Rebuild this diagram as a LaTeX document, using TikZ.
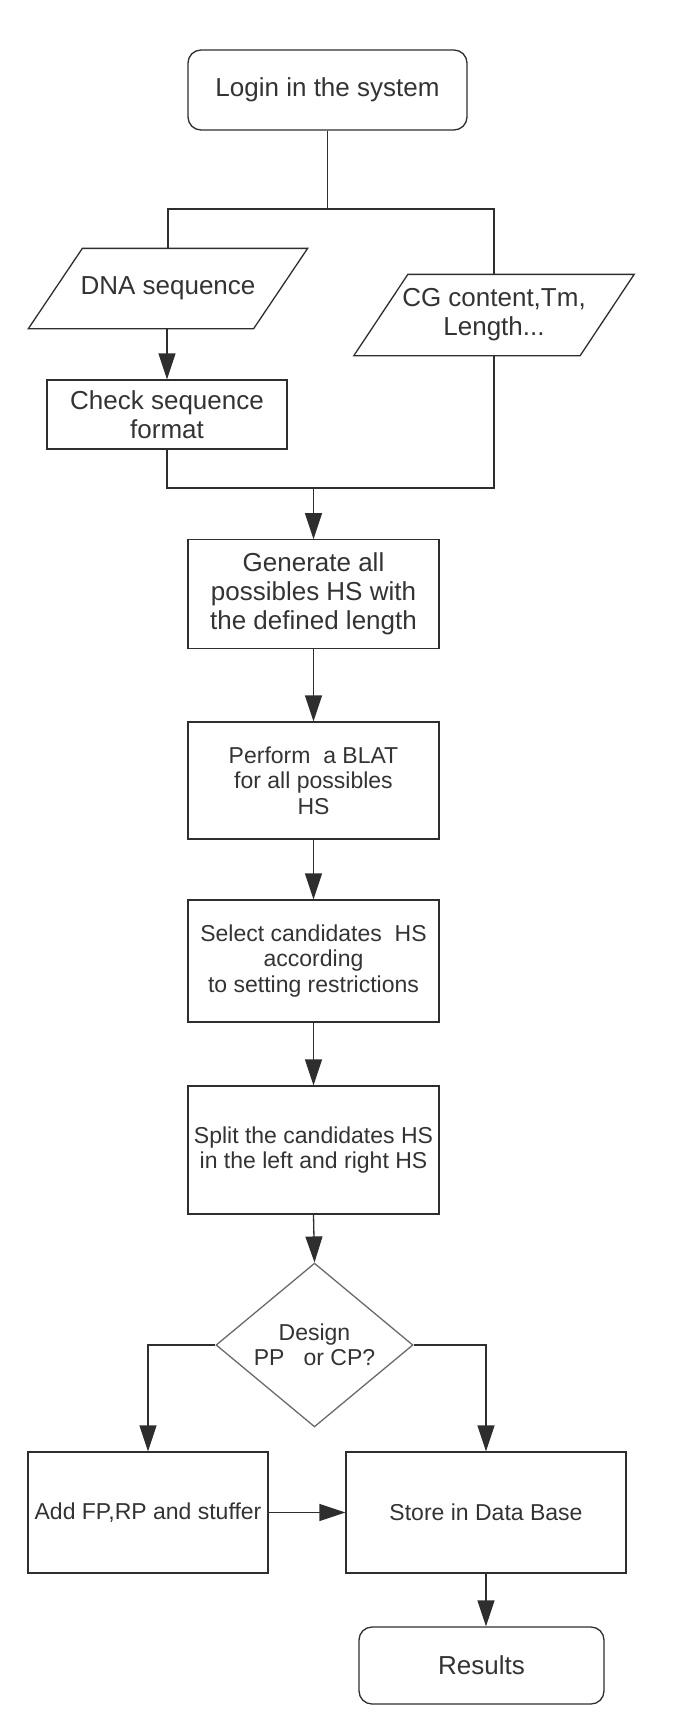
\documentclass[tikz,border=0pt]{standalone}
\usepackage{fontspec}
\setmainfont{Liberation Sans}
\usepackage{tikz}
\usetikzlibrary{arrows.meta,calc,shapes.geometric}

\definecolor{linegray}{HTML}{2E2E2E}
\definecolor{diamondgray}{HTML}{6A6A6A}
\definecolor{textgray}{HTML}{333333}

\begin{document}
\begin{tikzpicture}[x=1pt, y=-1pt, >={Triangle[length=26pt,width=17pt]}, line width=1.3pt, draw=linegray,
		big/.style={font=\fontsize{26}{29}\selectfont},
		small/.style={font=\fontsize{23}{25.5}\selectfont},
		terminal/.style={draw, rectangle, rounded corners=13pt, inner sep=0pt, align=center, text=textgray, big},
		io/.style={rectangle, inner sep=0pt, align=center, text=textgray, big},
		process/.style={draw, rectangle, inner sep=0pt, align=center, text=textgray},
		decision/.style={draw=diamondgray, diamond, inner sep=0pt, minimum width=197pt, minimum height=158pt, align=center, text=textgray, small}]
			\newcommand{\DrawIO}[2][54]{
				\draw (#2.south west) -- ($(#2.north west)+(#1,0)$) -- (#2.north east) -- ($(#2.south east)+(-#1,0)$) -- cycle;
			}
			\useasboundingbox (0,0) rectangle (685,1735);

			\node (login) [terminal, minimum width=279pt, minimum height=80pt] at (327.5,90) {Login in the system};

			\node (dna) [io, minimum width=278pt, minimum height=79pt] at (168,288.5) {DNA sequence};
			\node (cg) [io, minimum width=279pt, minimum height=80pt] at (494,315) {CG content,Tm,\\Length...};
			\DrawIO{dna}
			\DrawIO[54]{cg}

			\node (check) [process, big, minimum width=240pt, minimum height=69pt] at (167,414.5) {Check sequence\\format};

			\node (generate) [process, big, minimum width=251pt, minimum height=108.5pt] at (313.5,594) {Generate all\\possibles HS with\\the defined length};
			\node (perform) [process, small, minimum width=251pt, minimum height=117pt] at (313.5,780.5) {Perform\ \ a BLAT\\for all possibles\\HS};
			\node (select) [process, small, minimum width=251pt, minimum height=122pt] at (313.5,961) {Select candidates\ \ HS\\according\\to setting restrictions};
			\node (split) [process, small, minimum width=251pt, minimum height=128pt] at (313.5,1150) {Split the candidates HS\\in the left and right HS};

			\node (design) [decision] at (314.5,1345) {Design\\PP\ \ \ or CP?};

			\node (add) [process, small, minimum width=240pt, minimum height=121pt] at (148,1512.5) {Add FP,RP and stuffer};
			\node (store) [process, small, minimum width=280pt, minimum height=121pt] at (486,1512.5) {Store in Data Base};

			\node (results) [terminal, minimum width=245pt, minimum height=77pt] at (481.5,1665.5) {Results};

			\coordinate (topbar) at (0,209);
			\coordinate (joinbar) at (0,488);

			\draw (login.south) -- (login.south |- topbar);
			\draw (dna.center |- dna.north) |- (cg.center |- topbar) -- (cg.center |- cg.north);
			\draw[->] (check.north |- dna.south) -- (check.north);
			\draw (check.south) |- (cg.center |- joinbar) -- (cg.center |- cg.south);
			\draw[->] (generate.north |- joinbar) -- (generate.north);

			\draw[->] (generate.south) -- (perform.north);
			\draw[->] (perform.south) -- (select.north);
			\draw[->] (select.south) -- (split.north);
			\draw[->] (split.south) -- (design.north);

			\draw[->] (design.west) -| (add.north);
			\draw[->] (design.east) -| (store.north);
			\draw[->] (add.east) -- (store.west);
			\draw[->] (store.south) -- (store.south |- results.north);
		\end{tikzpicture}
\end{document}
